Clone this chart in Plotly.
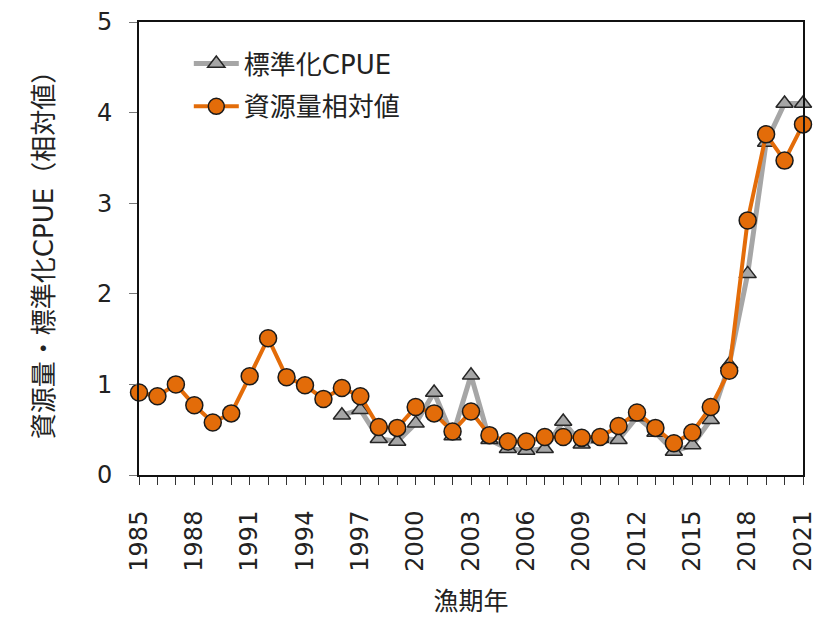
import plotly.graph_objects as go

years = list(range(1985, 2022))
resource = [0.91, 0.87, 1.00, 0.77, 0.58, 0.68, 1.09, 1.51, 1.08, 0.99,
            0.84, 0.96, 0.87, 0.53, 0.52, 0.75, 0.68, 0.48, 0.70, 0.44,
            0.37, 0.37, 0.42, 0.42, 0.41, 0.42, 0.54, 0.69, 0.52, 0.35,
            0.47, 0.75, 1.15, 2.81, 3.76, 3.47, 3.87]
cpue_years = list(range(1996, 2022))
cpue = [0.66, 0.72, 0.40, 0.37, 0.57, 0.91, 0.43, 1.10, 0.39, 0.29,
        0.27, 0.29, 0.59, 0.34, 0.40, 0.39, 0.64, 0.47, 0.26, 0.33,
        0.61, 1.22, 2.22, 3.67, 4.10, 4.10]
x_ticks = list(range(1985, 2022, 3))
y_ticks = [0, 1, 2, 3, 4, 5]

FONT = "DejaVu Sans, Noto Sans CJK JP, sans-serif"

fig = go.Figure()
fig.add_trace(go.Scatter(
    x=cpue_years, y=cpue, name="標準化CPUE", mode="lines+markers",
    line=dict(color="#A6A6A6", width=5),
    marker=dict(symbol="triangle-up", size=15, color="#A6A6A6",
                line=dict(color="#262626", width=1.5)),
    cliponaxis=False, legendgroup="a"))
fig.add_trace(go.Scatter(
    x=years, y=resource, name="資源量相対値", mode="lines+markers",
    line=dict(color="#E36C09", width=4),
    marker=dict(symbol="circle", size=17, color="#E36C09",
                line=dict(color="#1a1a1a", width=1.5)),
    cliponaxis=False, legendgroup="b"))

fig.update_layout(
    width=825, height=619,
    margin=dict(l=131, r=30, t=14, b=152),
    paper_bgcolor="white", plot_bgcolor="white",
    font=dict(family=FONT, size=24, color="#222"),
    showlegend=True,
    legend=dict(x=0.075, y=0.96, xanchor="left", yanchor="top",
                bgcolor="rgba(0,0,0,0)", font=dict(size=26, color="#222"),
                tracegroupgap=6, itemwidth=45),
    xaxis=dict(range=[1985, 2021], tickvals=x_ticks, ticktext=[str(v) for v in x_ticks],
               tickangle=-90, ticks="outside", ticklen=8, tickcolor="#333",
               ticklabelstandoff=16,
               minor=dict(dtick=1, tick0=1985, ticks="outside", ticklen=8, tickcolor="#333"),
               showline=True, linecolor="#111", linewidth=2, mirror=True,
               showgrid=False, zeroline=False, automargin=False,
               title=dict(text="漁期年", font=dict(size=25), standoff=22)),
    yaxis=dict(range=[0, 5], tickvals=y_ticks, ticks="outside", ticklen=8,
               tickcolor="#777", ticklabelstandoff=12,
               showline=True, linecolor="#111", linewidth=2,
               mirror=True, showgrid=False, zeroline=False, automargin=False,
               title=dict(text="資源量・標準化CPUE（相対値）", font=dict(size=26), standoff=36)),
)

fig.write_html("out.html")
